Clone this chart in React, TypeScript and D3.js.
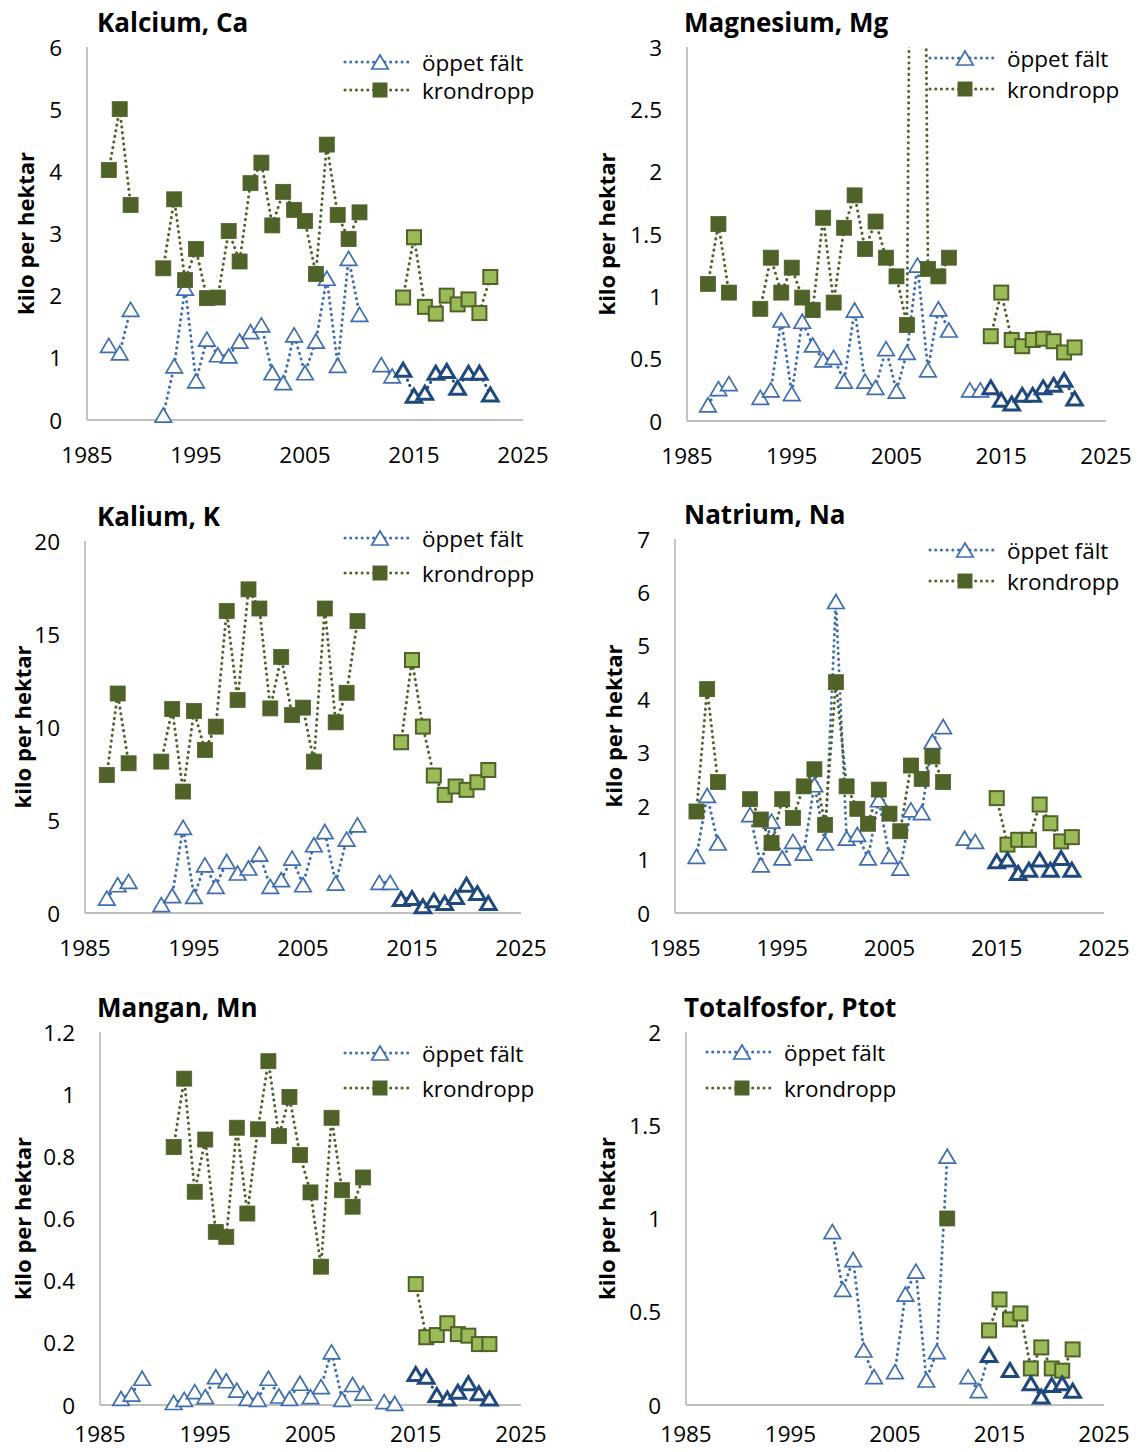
import React from "react";
import * as d3 from "d3";

// years of the two measurement periods
const yearsOld = [1987, 1988, 1989, 1990, 1991, 1992, 1993, 1994, 1995, 1996, 1997, 1998, 1999, 2000, 2001, 2002, 2003, 2004, 2005, 2006, 2007, 2008, 2009, 2010, 2011, 2012, 2013];
const yearsNew = [2014, 2015, 2016, 2017, 2018, 2019, 2020, 2021, 2022];
const xTicks = [1985, 1995, 2005, 2015, 2025];

// Kalcium
const caOpenOld = [1.2, 1.08, 1.78, null, null, 0.08, 0.87, 2.12, 0.63, 1.3, 1.05, 1.03, 1.27, 1.42, 1.53, 0.76, 0.6, 1.37, 0.76, 1.27, 2.28, 0.88, 2.6, 1.7, null, 0.89, 0.71];
const caOpenNew = [0.81, 0.39, 0.44, 0.76, 0.79, 0.52, 0.76, 0.76, 0.41];
const caCrownOld = [4.02, 5.0, 3.46, null, null, 2.44, 3.55, 2.25, 2.75, 1.96, 1.97, 3.04, 2.55, 3.81, 4.14, 3.13, 3.67, 3.38, 3.2, 2.35, 4.43, 3.3, 2.91, 3.34, null, null, null];
const caCrownNew = [1.97, 2.94, 1.82, 1.71, 2.0, 1.86, 1.94, 1.72, 2.3];

// Magnesium
const mgOpenOld = [0.13, 0.26, 0.3, null, null, 0.19, 0.25, 0.81, 0.22, 0.8, 0.61, 0.49, 0.51, 0.32, 0.89, 0.32, 0.27, 0.58, 0.24, 0.55, 1.25, 0.41, 0.9, 0.73, null, 0.25, 0.25];
const mgOpenNew = [0.27, 0.17, 0.14, 0.21, 0.21, 0.27, 0.29, 0.33, 0.18];
const mgCrownOld = [1.1, 1.58, 1.03, null, null, 0.9, 1.31, 1.03, 1.23, 0.99, 0.89, 1.63, 0.95, 1.55, 1.81, 1.38, 1.6, 1.31, 1.16, 0.77, 12, 1.22, 1.16, 1.31, null, null, null];
const mgCrownNew = [0.68, 1.03, 0.65, 0.6, 0.65, 0.66, 0.64, 0.55, 0.59];

// Kalium
const kOpenOld = [0.8, 1.52, 1.7, null, null, 0.45, 0.93, 4.6, 0.89, 2.59, 1.43, 2.77, 2.15, 2.42, 3.17, 1.43, 1.79, 2.95, 1.52, 3.67, 4.38, 1.61, 3.97, 4.74, null, 1.65, 1.65];
const kOpenNew = [0.75, 0.8, 0.36, 0.68, 0.54, 0.86, 1.52, 1.07, 0.54];
const kCrownOld = [7.42, 11.8, 8.05, null, null, 8.14, 10.97, 6.53, 10.86, 8.77, 10.02, 16.24, 11.45, 17.4, 16.37, 11.0, 13.77, 10.64, 11.04, 8.14, 16.37, 10.25, 11.84, 15.69, null, null, null];
const kCrownNew = [9.18, 13.6, 10.02, 7.39, 6.35, 6.8, 6.62, 7.03, 7.69];

// Natrium
const naOpenOld = [1.06, 2.2, 1.31, null, null, 1.84, 0.9, 1.72, 1.03, 1.34, 1.12, 2.4, 1.31, 5.83, 1.4, 1.47, 1.03, 2.12, 1.06, 0.84, 1.93, 1.88, 3.21, 3.49, null, 1.4, 1.34];
const naOpenNew = [null, 0.97, 1.0, 0.75, 0.81, 1.0, 0.81, 1.03, 0.81];
const naCrownOld = [1.9, 4.19, 2.45, null, null, 2.13, 1.75, 1.31, 2.13, 1.78, 2.37, 2.69, 1.65, 4.32, 2.37, 1.95, 1.67, 2.31, 1.86, 1.53, 2.76, 2.51, 2.93, 2.45, null, null, null];
const naCrownNew = [null, 2.15, 1.28, 1.37, 1.37, 2.03, 1.68, 1.34, 1.42];

// Mangan
const mnOpenOld = [0.021, 0.035, 0.086, null, null, 0.008, 0.018, 0.043, 0.027, 0.091, 0.078, 0.048, 0.021, 0.018, 0.086, 0.029, 0.021, 0.07, 0.027, 0.059, 0.171, 0.018, 0.066, 0.038, null, 0.011, 0.005];
const mnOpenNew = [null, 0.1, 0.091, 0.032, 0.021, 0.043, 0.07, 0.038, 0.021];
const mnCrownOld = [null, null, null, null, null, 0.83, 1.05, 0.686, 0.854, 0.557, 0.541, 0.892, 0.616, 0.887, 1.106, 0.865, 0.991, 0.804, 0.684, 0.445, 0.924, 0.691, 0.638, 0.732, null, null, null];
const mnCrownNew = [null, 0.389, 0.218, 0.225, 0.263, 0.228, 0.223, 0.196, 0.196];

// Totalfosfor
const pOpenOld = [null, null, null, null, null, null, null, null, null, null, null, null, 0.93, 0.62, 0.78, 0.295, 0.152, null, 0.179, 0.595, 0.718, 0.134, 0.286, 1.334, null, 0.152, 0.077];
const pOpenNew = [0.268, null, 0.188, null, 0.116, 0.045, 0.107, 0.116, 0.077];
const pCrownOld = [null, null, null, null, null, null, null, null, null, null, null, null, null, null, null, null, null, null, null, null, null, null, null, 1.0, null, null, null];
const pCrownNew = [0.4, 0.566, 0.459, 0.491, 0.196, 0.309, 0.196, 0.184, 0.298];

const FONT = "'Open Sans', sans-serif";
const BLUE = "#3e6eb0";
const NAVY = "#1f497d";
const OLIVE = "#4f6228";
const LIGHT = "#9bbb59";
const AXIS = "#bfbfbf";

type Pt = [number, number | null];
const pair = (ys: number[], vs: (number | null)[]): Pt[] => ys.map((y, i) => [y, vs[i]]);

const tri = (cx: number, cy: number, w: number, h: number) =>
  `M${cx},${cy - h / 2}L${cx + w / 2},${cy + h / 2}L${cx - w / 2},${cy + h / 2}Z`;

const panels = [
  { id: "ca", title: "Kalcium, Ca", yMax: 6, nTicks: 6, box: { x0: 87, x1: 523, yt: 47, yb: 420 }, xDy: 34, titleX: 97, yLabelX: 25, legend: { tx: 422, y1: 62, y2: 90 }, data: [caOpenOld, caOpenNew, caCrownOld, caCrownNew], bridge: false },
  { id: "mg", title: "Magnesium, Mg", yMax: 3, nTicks: 6, box: { x0: 687, x1: 1106, yt: 47, yb: 421 }, xDy: 34, titleX: 684, yLabelX: 606, legend: { tx: 1007, y1: 58, y2: 89 }, data: [mgOpenOld, mgOpenNew, mgCrownOld, mgCrownNew], bridge: false },
  { id: "k", title: "Kalium, K", yMax: 20, nTicks: 4, box: { x0: 85, x1: 521, yt: 541, yb: 913 }, xDy: 34, titleX: 97, yLabelX: 22, legend: { tx: 422, y1: 538, y2: 573 }, data: [kOpenOld, kOpenNew, kCrownOld, kCrownNew], bridge: false },
  { id: "na", title: "Natrium, Na", yMax: 7, nTicks: 7, box: { x0: 675, x1: 1104, yt: 539, yb: 913 }, xDy: 34, titleX: 684, yLabelX: 613, legend: { tx: 1007, y1: 550, y2: 581 }, data: [naOpenOld, naOpenNew, naCrownOld, naCrownNew], bridge: false },
  { id: "mn", title: "Mangan, Mn", yMax: 1.2, nTicks: 6, box: { x0: 100, x1: 521, yt: 1032, yb: 1405 }, xDy: 28, titleX: 97, yLabelX: 22, legend: { tx: 422, y1: 1053, y2: 1088 }, data: [mnOpenOld, mnOpenNew, mnCrownOld, mnCrownNew], bridge: false },
  { id: "p", title: "Totalfosfor, Ptot", yMax: 2, nTicks: 4, box: { x0: 686, x1: 1104, yt: 1032, yb: 1405 }, xDy: 28, titleX: 684, yLabelX: 606, legend: { tx: 784, y1: 1052, y2: 1088 }, data: [pOpenOld, pOpenNew, pCrownOld, pCrownNew], bridge: true },
];

const dotted = { fill: "none", strokeWidth: 3, strokeLinecap: "round" as const, strokeDasharray: "0.1 5.6" };

function Panel({ p }: { p: (typeof panels)[number] }) {
  const { box } = p;
  const x = d3.scaleLinear().domain([1985, 2025]).range([box.x0, box.x1]);
  const y = d3.scaleLinear().domain([0, p.yMax]).range([box.yb, box.yt]);
  const line = d3
    .line<Pt>()
    .defined((d) => d[1] != null)
    .x((d) => x(d[0]))
    .y((d) => y(d[1] as number));
  const fmt = d3.format("~g");

  const [oOld, oNew, cOld, cNew] = p.data;
  const openOld = pair(yearsOld, oOld);
  const openNew = pair(yearsNew, oNew);
  const crownOld = pair(yearsOld, cOld);
  const crownNew = pair(yearsNew, cNew);
  const def = (a: Pt[]) => a.filter((d) => d[1] != null);
  const inRange = (a: Pt[]) => def(a).filter((d) => (d[1] as number) <= p.yMax);

  let bridge: Pt[] | null = null;
  if (p.bridge) {
    const a = def(openOld);
    const b = def(openNew);
    bridge = [a[a.length - 1], b[0]];
  }

  const clipId = `clip-${p.id}`;
  const { tx, y1, y2 } = p.legend;

  return (
    <g>
      <defs>
        <clipPath id={clipId}>
          <rect x={box.x0} y={box.yt} width={box.x1 - box.x0} height={box.yb - box.yt + 30} />
        </clipPath>
      </defs>

      {/* axes */}
      <line x1={box.x0} x2={box.x0} y1={box.yt} y2={box.yb} stroke={AXIS} strokeWidth={1.8} />
      <line x1={box.x0} x2={box.x1} y1={box.yb} y2={box.yb} stroke={AXIS} strokeWidth={1.8} />
      {y.ticks(p.nTicks).map((t) => (
        <text key={t} x={box.x0 - 25} y={y(t)} textAnchor="end" dominantBaseline="central" fontSize={22.5} fontFamily={FONT} fill="#000">
          {fmt(t)}
        </text>
      ))}
      {xTicks.map((t) => (
        <text key={t} x={x(t)} y={box.yb + p.xDy} textAnchor="middle" dominantBaseline="central" fontSize={22.5} fontFamily={FONT} fill="#000">
          {t}
        </text>
      ))}
      <text
        transform={`translate(${p.yLabelX},${(box.yt + box.yb) / 2}) rotate(-90)`}
        textAnchor="middle"
        dominantBaseline="central"
        fontSize={22}
        fontWeight="bold"
        fontFamily={FONT}
      >
        kilo per hektar
      </text>
      <text x={p.titleX} y={box.yt - 25} dominantBaseline="central" fontSize={26} fontWeight="bold" fontFamily={FONT}>
        {p.title}
      </text>

      {/* lines */}
      <g clipPath={`url(#${clipId})`}>
        <path d={line(openOld) || ""} stroke={BLUE} {...dotted} />
        {bridge && <path d={line(bridge) || ""} stroke={BLUE} {...dotted} />}
        <path d={line(crownOld) || ""} stroke={OLIVE} {...dotted} />
        <path d={line(crownNew) || ""} stroke={OLIVE} {...dotted} />
        <path d={line(openNew) || ""} stroke={NAVY} {...dotted} />
      </g>

      {/* markers */}
      {inRange(openOld).map((d) => (
        <path key={`oo${d[0]}`} d={tri(x(d[0]), y(d[1] as number), 16.5, 14)} fill="#fff" stroke={BLUE} strokeWidth={1.7} strokeLinejoin="miter" />
      ))}
      {inRange(crownOld).map((d) => (
        <rect key={`co${d[0]}`} x={x(d[0]) - 7.5} y={y(d[1] as number) - 7.5} width={15} height={15} fill={OLIVE} stroke={OLIVE} strokeWidth={0.8} />
      ))}
      {inRange(crownNew).map((d) => (
        <rect key={`cn${d[0]}`} x={x(d[0]) - 7} y={y(d[1] as number) - 7} width={14} height={14} fill={LIGHT} stroke={OLIVE} strokeWidth={2} />
      ))}
      {inRange(openNew).map((d) => (
        <path key={`on${d[0]}`} d={tri(x(d[0]), y(d[1] as number), 15.5, 13)} fill="#fff" stroke={NAVY} strokeWidth={3} strokeLinejoin="miter" />
      ))}

      {/* legend */}
      <line x1={tx - 77} x2={tx - 12} y1={y1} y2={y1} stroke={BLUE} {...dotted} />
      <path d={tri(tx - 42, y1, 16.5, 14)} fill="#fff" stroke={BLUE} strokeWidth={1.7} />
      <text x={tx} y={y1} dominantBaseline="central" fontSize={22.5} fontFamily={FONT}>
        öppet fält
      </text>
      <line x1={tx - 77} x2={tx - 12} y1={y2} y2={y2} stroke={OLIVE} {...dotted} />
      <rect x={tx - 49.5} y={y2 - 7.5} width={15} height={15} fill={OLIVE} />
      <text x={tx} y={y2} dominantBaseline="central" fontSize={22.5} fontFamily={FONT}>
        krondropp
      </text>
    </g>
  );
}

export default function App() {
  return (
    <div style={{ position: "absolute", left: 0, top: 0 }}>
      <svg width={1142} height={1452} style={{ display: "block", background: "#fff" }}>
        {panels.map((p) => (
          <Panel key={p.id} p={p} />
        ))}
      </svg>
    </div>
  );
}
